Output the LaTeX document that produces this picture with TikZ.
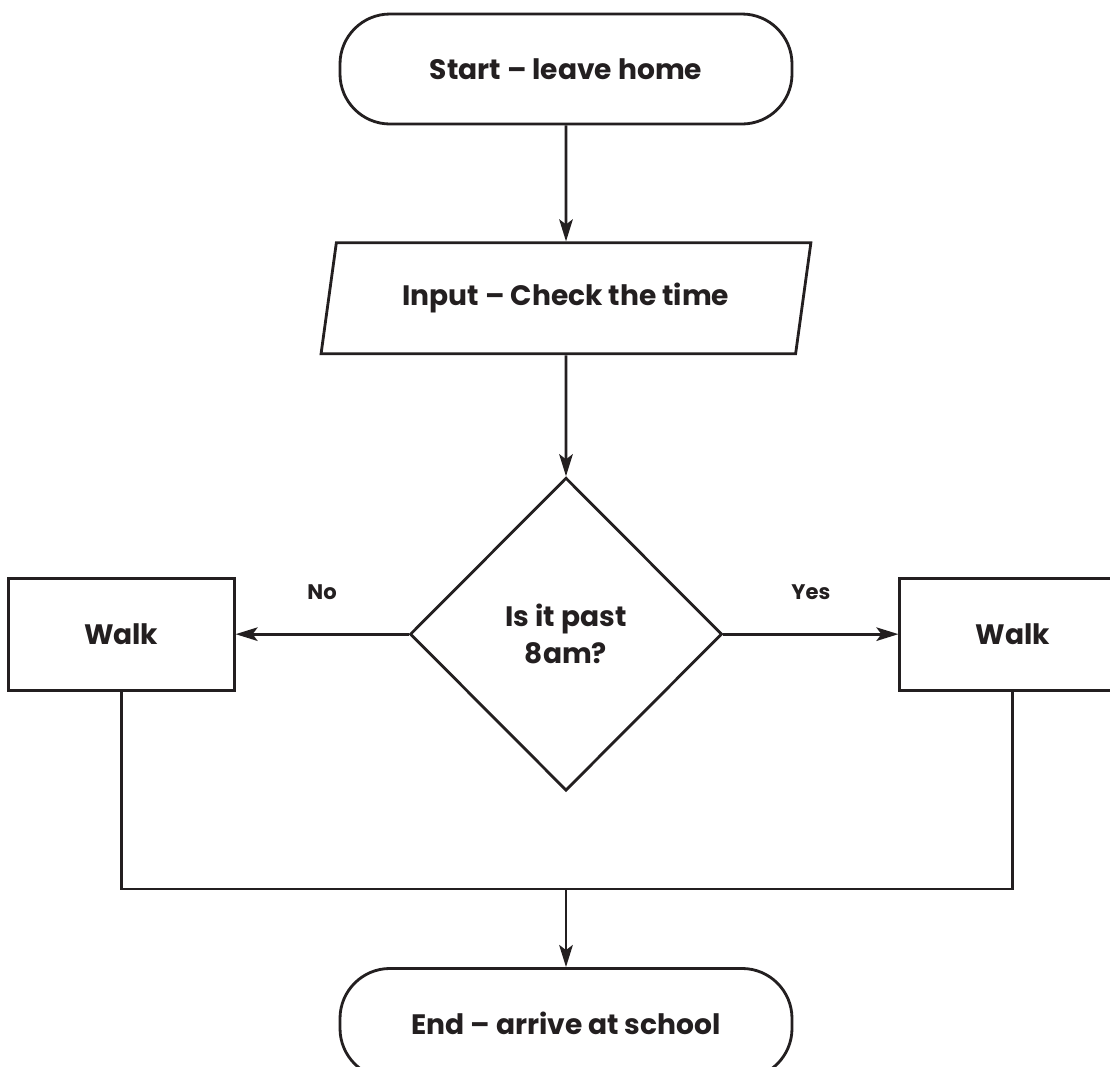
\documentclass[tikz,border=0pt]{standalone}
\usepackage{fontspec}
\setmainfont{Poppins}
\usepackage{tikz}
\usetikzlibrary{positioning,arrows.meta,shapes.geometric,calc}
\definecolor{inkdark}{RGB}{35,31,32}

\begin{document}
\begin{tikzpicture}[
    >={Stealth[length=0.44cm, width=0.27cm, inset=0.1cm]},
    every node/.style={font=\fontsize{16}{21}\selectfont\bfseries, text=inkdark},
    term/.style={
        rectangle, rounded corners=1cm, draw=inkdark, line width=1.6pt,
        minimum width=9.04cm, minimum height=2.2cm, align=center
    },
    io/.style={
        trapezium, trapezium left angle=74.9, trapezium right angle=105.1,
        trapezium stretches=true, draw=inkdark, line width=1.6pt,
        minimum width=9.8cm, minimum height=2.22cm, align=center
    },
    decision/.style={
        diamond, draw=inkdark, line width=1.6pt, aspect=1, inner sep=0pt,
        minimum width=6.24cm, minimum height=6.26cm, align=center
    },
    box/.style={
        rectangle, draw=inkdark, line width=1.6pt,
        minimum width=4.52cm, minimum height=2.24cm, align=center
    },
    flow/.style={->, draw=inkdark, line width=1.6pt},
    tag/.style={font=\fontsize{12}{14}\selectfont\bfseries}
]

\useasboundingbox[fill=white] (0,0) rectangle (22.2,-21.32);

\node[term] (F1) at (11.32,-1.38) {Start -- leave home};

\node[io, below=2.32cm of F1] (F2) {Input -- Check the time};

\node[decision, below=2.42cm of F2] (FD) {Is it past\\8am?};

\node[box, left=3.46cm of FD] (FL) {Walk};
\node[box, right=3.5cm of FD] (FR) {Walk};

\coordinate[below=1.94cm of FD.south] (J);

\node[term, below=1.56cm of J] (F3) {End -- arrive at school};

\draw[flow] (F1) -- (F2);
\draw[flow] (F2) -- (FD);
\draw[flow] (FD) -- (FL) node[tag, midway, above=0.55cm] (no) {No};
\draw[flow] (FD) -- (FR) node[tag, midway, above=0.55cm] (yes) {Yes};

\draw[draw=inkdark, line width=1.6pt] (FL.south) |- (J) -| (FR.south);
\draw[flow] (J) -- (F3);

\end{tikzpicture}
\end{document}
